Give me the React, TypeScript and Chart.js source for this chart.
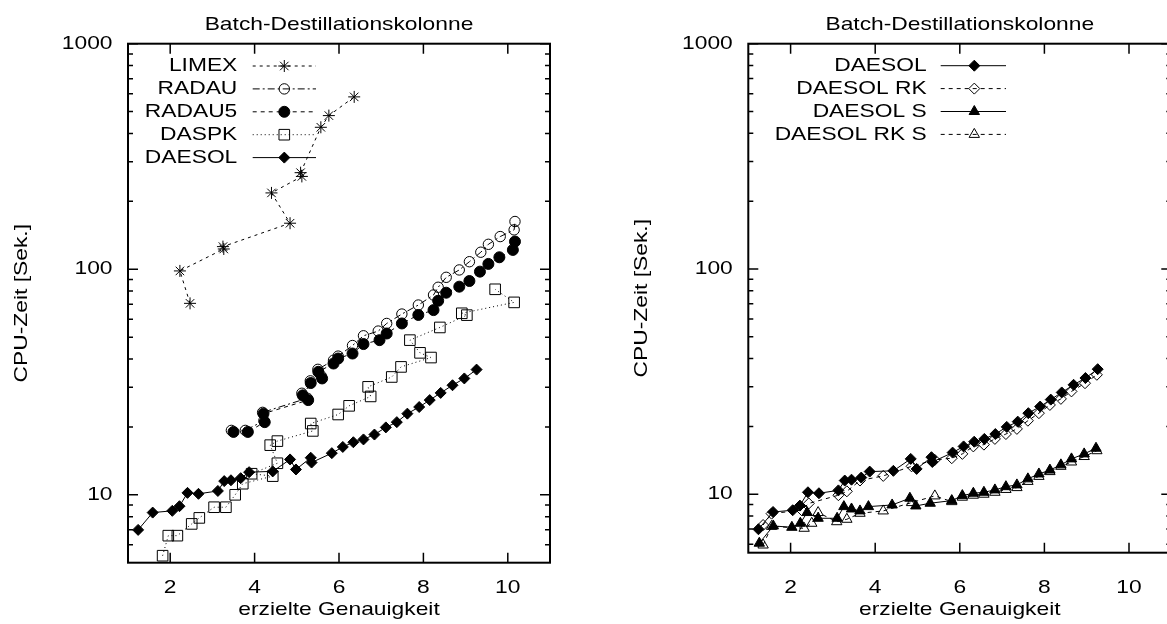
import React, { useEffect, useRef } from 'react';
import { Chart, registerables } from 'chart.js';

Chart.register(...registerables);

// ---------------- texts ----------------
const TITLE = 'Batch-Destillationskolonne';
const X_TITLE = 'erzielte Genauigkeit';
const Y_TITLE = 'CPU-Zeit [Sek.]';

// ---------------- ticks ----------------
const xTickValues = [2, 4, 6, 8, 10];
const xTickLabels = ['2', '4', '6', '8', '10'];
const yMajorValues = [10, 100, 1000];
const yMajorLabels = ['10', '100', '1000'];
const yMinorValues = [6, 7, 8, 9, 20, 30, 40, 50, 60, 70, 80, 90, 200, 300, 400, 500, 600, 700, 800, 900];

// ---------------- data: left panel ----------------
const limexX = [2.47, 2.23, 3.27, 3.25, 4.84, 4.40, 5.12, 5.09, 5.57, 5.76, 6.36];
const limexY = [70.6, 98.3, 123, 126, 160, 218, 258, 268, 426, 480, 581];

const radauX = [3.45, 3.78, 4.22, 4.19, 5.25, 5.12, 5.32, 5.58, 5.50, 5.87, 5.98, 6.32, 6.58, 6.93, 7.13, 7.49, 7.88, 8.24, 8.35, 8.54, 8.85, 9.09, 9.36, 9.54, 9.82, 10.15, 10.17];
const radauY = [19.3, 19.3, 21.3, 23.2, 26.8, 28.2, 32.0, 33.6, 36.0, 39.5, 41.2, 45.9, 50.7, 53.2, 57.5, 63.3, 69.4, 76.9, 83.2, 92.1, 99.3, 108, 119, 129, 139.6, 149.5, 162.8];

const radau5X = [3.50, 3.84, 4.24, 4.21, 5.27, 5.14, 5.33, 5.60, 5.51, 5.87, 5.98, 6.32, 6.58, 6.96, 7.13, 7.49, 7.88, 8.24, 8.35, 8.54, 8.85, 9.09, 9.34, 9.54, 9.80, 10.12, 10.17];
const radau5Y = [19.0, 19.0, 21.0, 22.9, 26.3, 27.6, 31.3, 32.8, 35.1, 38.2, 40.2, 42.3, 46.6, 48.5, 51.9, 57.5, 62.7, 65.9, 72.5, 78.7, 83.7, 88.7, 97.6, 105.6, 113, 121.8, 132.7];

const daspkX = [1.82, 1.955, 2.17, 2.51, 2.69, 3.04, 3.32, 3.54, 3.72, 4.43, 3.93, 4.54, 4.37, 4.54, 5.38, 5.33, 5.98, 6.24, 6.75, 6.69, 7.25, 7.47, 8.18, 7.92, 7.68, 8.39, 9.03, 8.91, 10.15, 9.70];
const daspkY = [5.37, 6.59, 6.59, 7.43, 7.9, 8.81, 8.81, 10.0, 11.2, 12.1, 12.4, 13.8, 16.6, 17.3, 19.2, 20.7, 22.7, 24.8, 27.3, 30.1, 33.3, 36.9, 40.6, 42.6, 48.5, 55.2, 62.6, 63.8, 71.3, 81.5];

const daesolX = [1.24, 1.585, 2.05, 2.22, 2.41, 2.67, 3.13, 3.28, 3.44, 3.67, 3.87, 4.43, 4.84, 4.98, 5.33, 5.35, 5.83, 6.09, 6.34, 6.58, 6.84, 7.11, 7.37, 7.62, 7.90, 8.15, 8.41, 8.69, 8.97, 9.26];
const daesolY = [6.99, 8.34, 8.49, 8.90, 10.2, 10.1, 10.4, 11.5, 11.6, 11.85, 12.6, 12.7, 14.35, 12.95, 14.6, 13.9, 15.3, 16.3, 17.1, 17.6, 18.5, 19.9, 21.0, 22.9, 24.5, 26.3, 28.3, 30.6, 32.8, 35.9];

// ---------------- data: right panel ----------------
const daesolRkX = [1.35, 1.55, 2.26, 2.43, 3.13, 3.33, 3.64, 4.19, 4.86, 5.41, 5.81, 6.06, 6.32, 6.57, 6.83, 7.09, 7.35, 7.61, 7.87, 8.13, 8.39, 8.64, 8.96, 9.24];
const daesolRkY = [7.3, 8.2, 8.5, 9.1, 9.9, 10.3, 11.5, 12.06, 13.3, 14.2, 14.45, 15.1, 16.3, 16.6, 17.6, 18.5, 19.5, 21.2, 22.9, 24.9, 26.5, 28.6, 31.1, 33.9];

const daesolSX = [1.26, 1.59, 2.03, 2.23, 2.39, 2.65, 3.10, 3.26, 3.44, 3.64, 3.84, 4.40, 4.82, 4.96, 5.30, 5.81, 6.06, 6.32, 6.57, 6.83, 7.09, 7.35, 7.61, 7.87, 8.13, 8.39, 8.64, 8.94, 9.22];
const daesolSY = [6.06, 7.23, 7.13, 7.43, 8.29, 7.82, 7.82, 8.81, 8.60, 8.43, 8.81, 8.96, 9.60, 8.87, 9.12, 9.37, 9.86, 10.1, 10.2, 10.45, 10.8, 11.0, 11.7, 12.3, 12.8, 13.5, 14.35, 15.1, 16.0];

const daesolRkSX = [1.35, 1.55, 2.32, 2.50, 2.65, 3.09, 3.33, 3.64, 4.19, 4.86, 5.41, 5.81, 6.06, 6.32, 6.57, 6.83, 7.09, 7.35, 7.61, 7.87, 8.13, 8.39, 8.64, 8.94, 9.24];
const daesolRkSY = [5.95, 7.2, 7.06, 7.43, 8.29, 7.55, 7.74, 8.23, 8.43, 9.18, 9.83, 9.27, 9.7, 9.9, 10.0, 10.2, 10.5, 10.7, 11.4, 12.0, 12.6, 13.3, 13.9, 14.7, 15.6];

// ---------------- styling ----------------
const FONT = '19px "Liberation Sans", Arial, Helvetica, sans-serif';
const SX = 1.2;

type Series = {
  label: string;
  xs: number[];
  ys: number[];
  style: 'star' | 'circle' | 'rect' | 'rectRot' | 'triangle';
  filled: boolean;
  dash: number[];
  radius: number;
};

const leftSeries: Series[] = [
  { label: 'LIMEX', xs: limexX, ys: limexY, style: 'star', filled: false, dash: [3, 4], radius: 6 },
  { label: 'RADAU', xs: radauX, ys: radauY, style: 'circle', filled: false, dash: [7, 3, 2, 3], radius: 5.2 },
  { label: 'RADAU5', xs: radau5X, ys: radau5Y, style: 'circle', filled: true, dash: [4, 4], radius: 5.5 },
  { label: 'DASPK', xs: daspkX, ys: daspkY, style: 'rect', filled: false, dash: [1, 3], radius: 7.5 },
  { label: 'DAESOL', xs: daesolX, ys: daesolY, style: 'rectRot', filled: true, dash: [], radius: 5.5 },
];

const rightSeries: Series[] = [
  { label: 'DAESOL', xs: daesolX, ys: daesolY, style: 'rectRot', filled: true, dash: [], radius: 5.5 },
  { label: 'DAESOL RK', xs: daesolRkX, ys: daesolRkY, style: 'rectRot', filled: false, dash: [4, 4], radius: 5.5 },
  { label: 'DAESOL S', xs: daesolSX, ys: daesolSY, style: 'triangle', filled: true, dash: [], radius: 6 },
  { label: 'DAESOL RK S', xs: daesolRkSX, ys: daesolRkSY, style: 'triangle', filled: false, dash: [4, 4], radius: 6 },
];

type PanelCfg = {
  left: number;
  width: number;
  height: number;
  pad: { left: number; right: number; top: number; bottom: number };
  yMin: number;
  yMax: number;
  xMin: number;
  xMax: number;
  series: Series[];
  legend: { textRight: number; x1: number; x2: number; markerX: number; firstY: number; step: number };
  titleBaseline: number;
  xLabelBaseline: number;
  xTitleBaseline: number;
  yTitleX: number;
};

const leftCfg: PanelCfg = {
  left: 0,
  width: 600,
  height: 624,
  pad: { left: 128, right: 50, top: 43.7, bottom: 61.3 },
  yMin: 5,
  yMax: 1000,
  xMin: 1,
  xMax: 11,
  series: leftSeries,
  legend: { textRight: 237.3, x1: 252.7, x2: 316, markerX: 284.3, firstY: 66, step: 22.9 },
  titleBaseline: 30,
  xLabelBaseline: 593,
  xTitleBaseline: 615,
  yTitleX: 22,
};

const rightCfg: PanelCfg = {
  left: 600,
  width: 600,
  height: 624,
  pad: { left: 148.3, right: 28.7, top: 43.7, bottom: 71.3 },
  yMin: 5.5,
  yMax: 1000,
  xMin: 1,
  xMax: 11,
  series: rightSeries,
  legend: { textRight: 326.7, x1: 340.7, x2: 406, markerX: 374.3, firstY: 65.7, step: 22.9 },
  titleBaseline: 30,
  xLabelBaseline: 593,
  xTitleBaseline: 615,
  yTitleX: 42,
};

function drawText(
  ctx: CanvasRenderingContext2D,
  s: string,
  x: number,
  y: number,
  align: CanvasTextAlign,
  baseline: CanvasTextBaseline = 'alphabetic',
  rot = 0
) {
  ctx.save();
  ctx.translate(x, y);
  if (rot) ctx.rotate(rot);
  ctx.scale(SX, 1);
  ctx.font = FONT;
  ctx.fillStyle = '#000';
  ctx.textAlign = align;
  ctx.textBaseline = baseline;
  ctx.fillText(s, 0, 0);
  ctx.restore();
}

function drawMarker(ctx: CanvasRenderingContext2D, s: Series, x: number, y: number) {
  const r = s.radius;
  ctx.save();
  ctx.setLineDash([]);
  ctx.lineWidth = 1;
  ctx.strokeStyle = '#000';
  ctx.fillStyle = '#000';
  ctx.beginPath();
  if (s.style === 'star') {
    const d = r * Math.SQRT1_2;
    ctx.moveTo(x - r, y); ctx.lineTo(x + r, y);
    ctx.moveTo(x, y - r); ctx.lineTo(x, y + r);
    ctx.moveTo(x - d, y - d); ctx.lineTo(x + d, y + d);
    ctx.moveTo(x - d, y + d); ctx.lineTo(x + d, y - d);
    ctx.stroke();
  } else {
    if (s.style === 'circle') {
      ctx.arc(x, y, r, 0, Math.PI * 2);
    } else if (s.style === 'rect') {
      const h = r * Math.SQRT1_2;
      ctx.rect(x - h, y - h, 2 * h, 2 * h);
    } else if (s.style === 'rectRot') {
      ctx.moveTo(x, y - r); ctx.lineTo(x + r, y); ctx.lineTo(x, y + r); ctx.lineTo(x - r, y); ctx.closePath();
    } else if (s.style === 'triangle') {
      ctx.moveTo(x, y - r);
      ctx.lineTo(x + 0.866 * r, y + 0.5 * r);
      ctx.lineTo(x - 0.866 * r, y + 0.5 * r);
      ctx.closePath();
    }
    if (s.filled) ctx.fill();
    ctx.stroke();
  }
  ctx.restore();
}

function makeFramePlugin(cfg: PanelCfg) {
  return {
    id: 'gnuframe',
    afterDraw(chart: any) {
      const ctx: CanvasRenderingContext2D = chart.ctx;
      const xs = chart.scales.x;
      const ys = chart.scales.y;
      const { left, right, top, bottom } = chart.chartArea;
      ctx.save();
      ctx.setLineDash([]);
      ctx.strokeStyle = '#000';
      ctx.lineWidth = 1.5;
      ctx.beginPath();
      xTickValues.forEach((v) => {
        const px = xs.getPixelForValue(v);
        ctx.moveTo(px, bottom); ctx.lineTo(px, bottom - 10);
        ctx.moveTo(px, top); ctx.lineTo(px, top + 10);
      });
      yMajorValues.forEach((v) => {
        const py = ys.getPixelForValue(v);
        if (py < top - 0.5 || py > bottom + 0.5) return;
        ctx.moveTo(left, py); ctx.lineTo(left + 10, py);
        ctx.moveTo(right, py); ctx.lineTo(right - 10, py);
      });
      yMinorValues.forEach((v) => {
        if (v < cfg.yMin || v > cfg.yMax) return;
        const py = ys.getPixelForValue(v);
        ctx.moveTo(left, py); ctx.lineTo(left + 5, py);
        ctx.moveTo(right, py); ctx.lineTo(right - 5, py);
      });
      ctx.stroke();
      ctx.lineWidth = 2;
      ctx.strokeRect(left, top, right - left, bottom - top);

      // tick labels
      xTickValues.forEach((v, i) => {
        drawText(ctx, xTickLabels[i], xs.getPixelForValue(v), cfg.xLabelBaseline, 'center');
      });
      yMajorValues.forEach((v, i) => {
        drawText(ctx, yMajorLabels[i], left - 15.5, ys.getPixelForValue(v), 'right', 'middle');
      });

      // titles
      const cx = (left + right) / 2;
      drawText(ctx, TITLE, cx, cfg.titleBaseline, 'center');
      drawText(ctx, X_TITLE, cx, cfg.xTitleBaseline, 'center');
      drawText(ctx, Y_TITLE, cfg.yTitleX, (top + bottom) / 2, 'center', 'middle', -Math.PI / 2);

      // key
      const lg = cfg.legend;
      cfg.series.forEach((s, i) => {
        const y = lg.firstY + i * lg.step;
        drawText(ctx, s.label, lg.textRight, y, 'right', 'middle');
        ctx.save();
        ctx.strokeStyle = '#000';
        ctx.lineWidth = 1;
        ctx.setLineDash(s.dash);
        ctx.beginPath();
        ctx.moveTo(lg.x1, y);
        ctx.lineTo(lg.x2, y);
        ctx.stroke();
        ctx.restore();
        drawMarker(ctx, s, lg.markerX, y);
      });
      ctx.restore();
    },
  };
}

function Panel({ cfg }: { cfg: PanelCfg }) {
  const ref = useRef<HTMLCanvasElement>(null);
  useEffect(() => {
    const canvas = ref.current;
    if (!canvas) return;
    const chart = new Chart(canvas, {
      type: 'line',
      data: {
        datasets: cfg.series.map((s) => ({
          label: s.label,
          data: s.xs.map((x, i) => ({ x, y: s.ys[i] })),
          showLine: true,
          borderColor: '#000',
          borderWidth: 1,
          borderDash: s.dash,
          fill: false,
          tension: 0,
          pointStyle: s.style,
          pointRadius: s.radius,
          pointBorderWidth: 1,
          pointBorderColor: '#000',
          pointBackgroundColor: s.filled ? '#000' : 'rgba(0,0,0,0)',
        })),
      },
      options: {
        responsive: false,
        animation: false,
        devicePixelRatio: 1,
        events: [],
        layout: { padding: cfg.pad },
        scales: {
          x: { type: 'linear', min: cfg.xMin, max: cfg.xMax, display: false },
          y: { type: 'logarithmic', min: cfg.yMin, max: cfg.yMax, display: false },
        },
        plugins: {
          legend: { display: false },
          tooltip: { enabled: false },
          title: { display: false },
        },
      },
      plugins: [makeFramePlugin(cfg)],
    } as any);
    return () => chart.destroy();
  }, [cfg]);
  return (
    <canvas
      ref={ref}
      width={cfg.width}
      height={cfg.height}
      style={{ position: 'absolute', left: cfg.left, top: 0, width: cfg.width, height: cfg.height, display: 'block' }}
    />
  );
}

export default function App() {
  return (
    <div
      style={{
        position: 'fixed',
        left: 0,
        top: 0,
        width: 1167,
        height: 624,
        overflow: 'hidden',
        background: '#fff',
      }}
    >
      <Panel cfg={leftCfg} />
      <Panel cfg={rightCfg} />
    </div>
  );
}
